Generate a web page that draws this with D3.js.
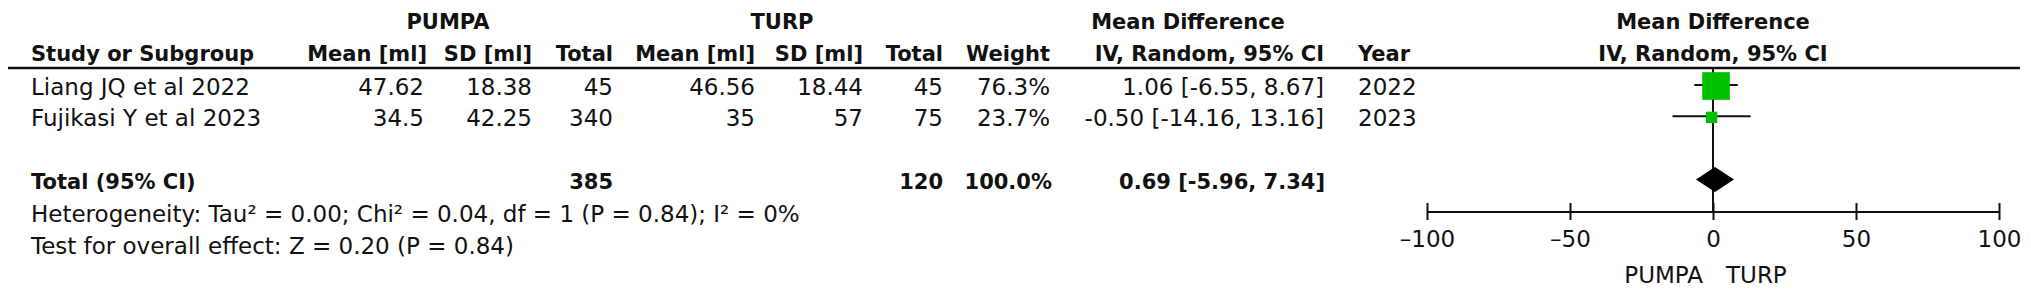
<!DOCTYPE html>
<html>
<head>
<meta charset="utf-8">
<script src="https://cdn.jsdelivr.net/npm/d3@7"></script>
<style>
  html, body { margin: 0; padding: 0; background: #fff; }
  svg text { font-family: "DejaVu Sans", sans-serif; fill: #111; }
</style>
</head>
<body>
<div id="chart"></div>
<script>
// study rows
var studies = ["Liang JQ et al 2022", "Fujikasi Y et al 2023"];
var pumpaMean = [47.62, 34.5];
var pumpaSD = [18.38, 42.25];
var pumpaN = [45, 340];
var turpMean = [46.56, 35];
var turpSD = [18.44, 57];
var turpN = [45, 75];
var weights = [76.3, 23.7];
var md = [1.06, -0.50];
var ciLow = [-6.55, -14.16];
var ciHigh = [8.67, 13.16];
var years = [2022, 2023];

// pooled row
var totalN = [385, 120];
var totalWeight = 100.0;
var totalMD = 0.69;
var totalCI = [-5.96, 7.34];

var axisTicks = [-100, -50, 0, 50, 100];
var groupLabels = ["PUMPA", "TURP"];
var hetText = "Heterogeneity: Tau\u00B2 = 0.00; Chi\u00B2 = 0.04, df = 1 (P = 0.84); I\u00B2 = 0%";
var effectText = "Test for overall effect: Z = 0.20 (P = 0.84)";

//----------------------------------------------------------

var W = 2031, H = 293,
    fs = 23, fsBold = 21;

var svg = d3.select("#chart").append("svg")
    .attr("width", W).attr("height", H);

svg.append("rect").attr("width", W).attr("height", H).attr("fill", "#fff");

// row centres: two studies, a blank row, then the total
var rowKeys = studies.concat(["gap", "total"]);
var y = d3.scalePoint().domain(rowKeys).range([86, 180]);

var x = d3.scaleLinear().domain([-100, 100]).range([1427, 1999]);
var boxSize = d3.scaleLinear().domain([0, 100]).range([4, 35]);

var fmt2 = function (v) { return v.toFixed(2); };
var ciText = function (m, lo, hi) { return fmt2(m) + " [" + fmt2(lo) + ", " + fmt2(hi) + "]"; };

function txt(xPos, yPos, s, anchor, bold) {
    return svg.append("text")
        .attr("x", xPos).attr("y", yPos)
        .attr("text-anchor", anchor || "start")
        .attr("font-size", bold ? fsBold : fs)
        .attr("font-weight", bold ? "bold" : "normal")
        .text(s);
}

// header
var h1 = 29, h2 = 61;
txt(448, h1, groupLabels[0], "middle", true);
txt(782, h1, groupLabels[1], "middle", true);
txt(1188, h1, "Mean Difference", "middle", true);
txt(x(0), h1, "Mean Difference", "middle", true);

txt(31, h2, "Study or Subgroup", "start", true);
txt(427, h2, "Mean [ml]", "end", true);
txt(532, h2, "SD [ml]", "end", true);
txt(613, h2, "Total", "end", true);
txt(755, h2, "Mean [ml]", "end", true);
txt(863, h2, "SD [ml]", "end", true);
txt(943, h2, "Total", "end", true);
txt(1050, h2, "Weight", "end", true);
txt(1324, h2, "IV, Random, 95% CI", "end", true);
txt(1358, h2, "Year", "start", true);
txt(x(0), h2, "IV, Random, 95% CI", "middle", true);

svg.append("line")
    .attr("x1", 8).attr("x2", 2020)
    .attr("y1", 68).attr("y2", 68)
    .attr("stroke", "#111").attr("stroke-width", 2.5);

// study rows
studies.forEach(function (s, i) {
    var ty = y(s) + 9;
    txt(31, ty, s);
    txt(424, ty, String(pumpaMean[i]), "end");
    txt(532, ty, String(pumpaSD[i]), "end");
    txt(613, ty, String(pumpaN[i]), "end");
    txt(755, ty, String(turpMean[i]), "end");
    txt(863, ty, String(turpSD[i]), "end");
    txt(943, ty, String(turpN[i]), "end");
    txt(1050, ty, weights[i].toFixed(1) + "%", "end");
    txt(1324, ty, ciText(md[i], ciLow[i], ciHigh[i]), "end");
    txt(1358, ty, String(years[i]), "start");
});

// total row
var tyT = y("total") + 9;
txt(31, tyT, "Total (95% CI)", "start", true);
txt(613, tyT, String(totalN[0]), "end", true);
txt(943, tyT, String(totalN[1]), "end", true);
txt(1052, tyT, totalWeight.toFixed(1) + "%", "end", true);
txt(1325, tyT, ciText(totalMD, totalCI[0], totalCI[1]), "end", true);

txt(31, 222, hetText);
txt(31, 254, effectText);

// forest plot
var axisY = 211.5;

svg.append("line")
    .attr("x1", x(0)).attr("x2", x(0))
    .attr("y1", 68).attr("y2", axisY)
    .attr("stroke", "#111").attr("stroke-width", 2);

var rows = svg.selectAll("g.study")
    .data(studies.map(function (s, i) { return { name: s, i: i }; }))
    .enter().append("g").attr("class", "study");

rows.append("line")
    .attr("x1", function (d) { return x(ciLow[d.i]); })
    .attr("x2", function (d) { return x(ciHigh[d.i]); })
    .attr("y1", function (d) { return y(d.name) - 1; })
    .attr("y2", function (d) { return y(d.name) - 1; })
    .attr("stroke", "#111").attr("stroke-width", 2);

rows.append("rect")
    .attr("x", function (d) { return x(md[d.i]) - boxSize(weights[d.i]) / 2; })
    .attr("y", function (d) { return y(d.name) - boxSize(weights[d.i]) / 2; })
    .attr("width", function (d) { return boxSize(weights[d.i]); })
    .attr("height", function (d) { return boxSize(weights[d.i]); })
    .attr("fill", "#00c000");

var dy = y("total") - 0.5;
svg.append("path")
    .attr("d", "M" + x(totalCI[0]) + "," + dy +
               "L" + x(totalMD) + "," + (dy - 12.5) +
               "L" + x(totalCI[1]) + "," + dy +
               "L" + x(totalMD) + "," + (dy + 12.5) + "Z")
    .attr("fill", "#000");

var axis = d3.axisBottom(x)
    .tickValues(axisTicks)
    .tickSizeInner(8.5)
    .tickSizeOuter(0)
    .tickFormat(function (d) { return String(d).replace("-", "\u2013"); });

svg.append("g")
    .attr("transform", "translate(0," + axisY + ")")
    .call(axis)
    .call(function (g) {
        g.attr("font-size", null).attr("font-family", null);
        g.select(".domain").attr("stroke", "#111").attr("stroke-width", 2);
        g.selectAll(".tick line").attr("y1", -8.5).attr("y2", 8.5)
            .attr("stroke", "#111").attr("stroke-width", 2);
        g.selectAll(".tick text").attr("y", 35).attr("dy", null)
            .attr("font-size", fs).attr("fill", "#111");
    });

txt(x(0) - 10, 283, groupLabels[0], "end");
txt(x(0) + 13, 283, groupLabels[1], "start");
</script>
</body>
</html>
